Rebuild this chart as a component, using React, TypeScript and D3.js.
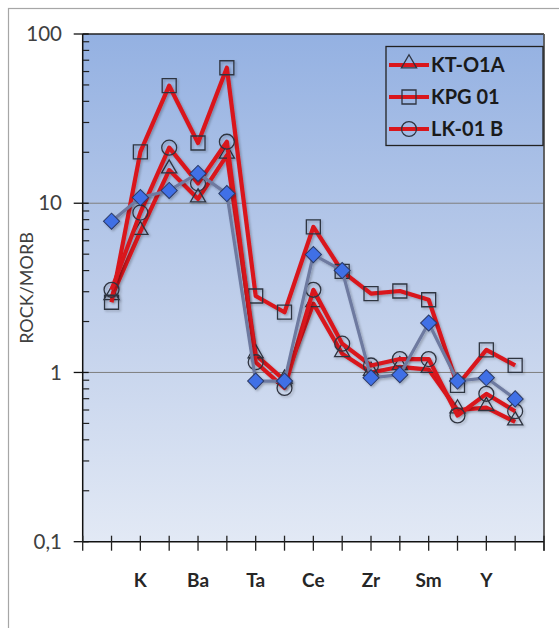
import React from "react";
import * as d3 from "d3";

// ---- data ----
const elements = ["Sr", "K", "Rb", "Ba", "Th", "Ta", "Nb", "Ce", "P", "Zr", "Hf", "Sm", "Ti", "Y", "Yb"];
const shownLabels = ["K", "Ba", "Ta", "Ce", "Zr", "Sm", "Y"];
const yTickValues = [0.1, 1, 10, 100];
const yTickLabels = ["0,1", "1", "10", "100"];

const ktO1A = [2.8, 6.8, 15.7, 10.6, 19.2, 1.27, 0.9, 2.55, 1.29, 1.0, 1.08, 1.04, 0.6, 0.62, 0.51];
const kpg01 = [2.6, 20.1, 49.5, 22.7, 63.2, 2.83, 2.27, 7.24, 3.96, 2.92, 3.03, 2.69, 0.84, 1.36, 1.1];
const lk01B = [3.08, 8.8, 21.3, 13.1, 23.1, 1.15, 0.81, 3.08, 1.48, 1.1, 1.2, 1.2, 0.557, 0.748, 0.59];
const sample4 = [7.83, 10.8, 11.9, 15.0, 11.4, 0.889, 0.89, 4.97, 4.0, 0.93, 0.97, 1.96, 0.89, 0.93, 0.698];

const seriesNames = ["KT-O1A", "KPG 01", "LK-01 B", "Sample"];

// ---- layout ----
const W = 559;
const H = 628;
const left = 82.7;
const right = 544;
const top = 34;
const bottom = 541.7;

const FONT = "Lato, 'Open Sans', 'DejaVu Sans', sans-serif";

export default function App() {
  const x = d3.scaleLinear().domain([0, elements.length + 1]).range([left, right]);
  const y = d3.scaleLog().domain([0.1, 100]).range([bottom, top]);

  const line = d3
    .line<number>()
    .x((_, i) => x(i + 1))
    .y((d) => y(d));

  const minorTicks: number[] = [];
  [0.1, 1, 10].forEach((dec) => {
    for (let k = 2; k <= 9; k++) minorTicks.push(dec * k);
  });

  const xTicks = d3.range(0, elements.length + 2);

  const triangle = d3.symbol().type(d3.symbolTriangle).size(100)() as string;
  const square = d3.symbol().type(d3.symbolSquare).size(196)() as string;
  const circle = d3.symbol().type(d3.symbolCircle).size(175)() as string;
  const diamond = d3.symbol().type(d3.symbolSquare).size(130)() as string;

  const red = "#d9161c";
  const markerStroke = "#2f3440";

  const redSeries = [
    { name: seriesNames[0], data: ktO1A, shape: triangle, dy: 1.5 },
    { name: seriesNames[1], data: kpg01, shape: square, dy: 0 },
    { name: seriesNames[2], data: lk01B, shape: circle, dy: 0 },
  ];

  return (
    <svg
      width={W}
      height={H}
      style={{ position: "absolute", left: 0, top: 0, background: "#fff" }}
      fontFamily={FONT}
    >
      <defs>
        <linearGradient id="bg" x1="0" y1="0" x2="0" y2="1">
          <stop offset="0" stopColor="#94b1e2" />
          <stop offset="0.5" stopColor="#bdcdea" />
          <stop offset="1" stopColor="#e2e9f5" />
        </linearGradient>
        <filter id="sh" x="-10%" y="-10%" width="130%" height="130%">
          <feDropShadow dx="1.5" dy="1.5" stdDeviation="1.2" floodColor="#000" floodOpacity="0.25" />
        </filter>
      </defs>

      {/* outer frame */}
      <rect x={8.5} y={8.5} width={620} height={640} fill="#fff" stroke="#a6a6a6" strokeWidth={1.2} />

      {/* plot area */}
      <rect x={left} y={top} width={right - left} height={bottom - top} fill="url(#bg)" />

      {/* gridlines */}
      {[1, 10].map((v) => (
        <line key={v} x1={left} x2={right} y1={y(v)} y2={y(v)} stroke="#7f7f7f" strokeWidth={1} />
      ))}

      {/* plot border */}
      <line x1={left} x2={right} y1={top} y2={top} stroke="#222" strokeWidth={1.5} />
      <line x1={right} x2={right} y1={top} y2={bottom + 9} stroke="#555" strokeWidth={1.8} />

      {/* y axis */}
      <line x1={left} x2={left} y1={top} y2={bottom} stroke="#111" strokeWidth={1.5} />
      {minorTicks.map((v) => (
        <line key={"m" + v} x1={left} x2={left + 6.5} y1={y(v)} y2={y(v)} stroke="#222" strokeWidth={1.2} />
      ))}
      {yTickValues.map((v, i) => (
        <g key={"y" + v}>
          <line x1={left - 9} x2={left + 6} y1={y(v)} y2={y(v)} stroke="#111" strokeWidth={1.3} />
          <text x={62} y={y(v)} dy="0.35em" textAnchor="end" fontSize={20.5} fill="#404040">
            {yTickLabels[i]}
          </text>
        </g>
      ))}
      <text
        transform={`translate(27,${288}) rotate(-90)`}
        textAnchor="middle"
        dy="0.35em"
        fontSize={18}
        fill="#404040"
      >
        ROCK/MORB
      </text>

      {/* x axis */}
      <line x1={left} x2={right} y1={bottom} y2={bottom} stroke="#111" strokeWidth={1.5} />
      {xTicks.map((t) => (
        <line key={"x" + t} x1={x(t)} x2={x(t)} y1={bottom - 6} y2={bottom + 9} stroke="#222" strokeWidth={1.3} />
      ))}
      {elements.map((el, i) =>
        shownLabels.includes(el) ? (
          <text
            key={"l" + el}
            x={x(i + 1)}
            y={580}
            dy="0.35em"
            textAnchor="middle"
            fontSize={19}
            fontWeight="bold"
            fill="#262626"
          >
            {el}
          </text>
        ) : null
      )}

      {/* red series */}
      {redSeries.map((s) => (
        <g key={s.name} filter="url(#sh)">
          <path d={line(s.data) as string} fill="none" stroke={red} strokeWidth={4.2} strokeLinejoin="round" />
          {s.data.map((v, i) => (
            <path
              key={i}
              d={s.shape}
              transform={`translate(${x(i + 1)},${y(v) - s.dy})`}
              fill="none"
              stroke={markerStroke}
              strokeWidth={1.3}
            />
          ))}
        </g>
      ))}

      {/* blue diamond series */}
      <g filter="url(#sh)">
        <path d={line(sample4) as string} fill="none" stroke="#6e7aa0" strokeWidth={3.2} strokeLinejoin="round" />
        {sample4.map((v, i) => (
          <path
            key={i}
            d={diamond}
            transform={`translate(${x(i + 1)},${y(v)}) rotate(45)`}
            fill="#3f6fe6"
            stroke="#2b3a66"
            strokeWidth={1}
          />
        ))}
      </g>

      {/* legend */}
      <g>
        <rect x={386} y={46.5} width={157} height={99} fill="none" stroke="#222" strokeWidth={1.3} />
        {redSeries.map((s, i) => {
          const cy = [65, 97, 129][i];
          return (
            <g key={"lg" + s.name}>
              <line x1={389} x2={429} y1={cy} y2={cy} stroke={red} strokeWidth={4} />
              <path d={s.shape} transform={`translate(409,${cy - s.dy})`} fill="none" stroke={markerStroke} strokeWidth={1.3} />
              <text x={431} y={cy} dy="0.36em" fontSize={20} fontWeight="bold" fill="#1a1a1a">
                {s.name}
              </text>
            </g>
          );
        })}
      </g>
    </svg>
  );
}
